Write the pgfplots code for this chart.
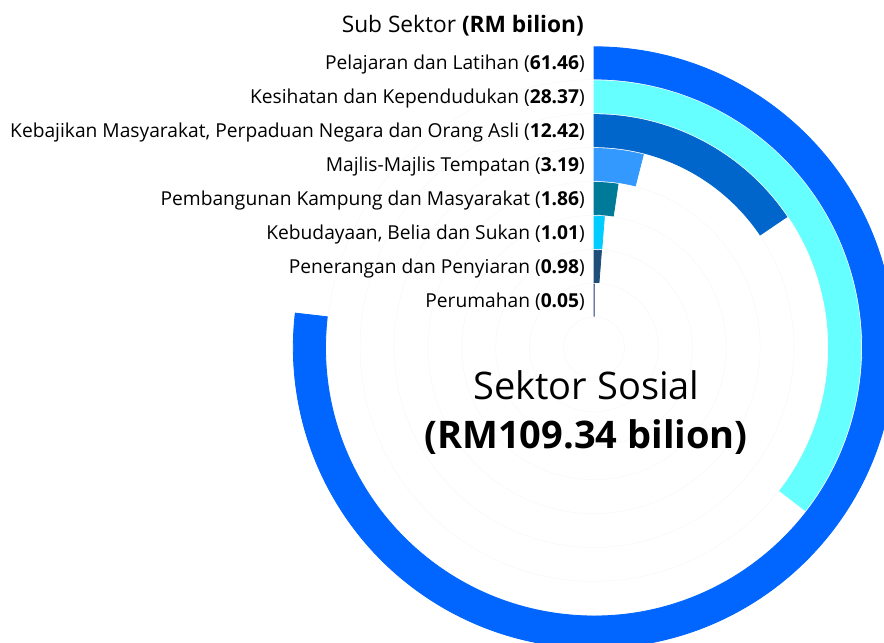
\documentclass[border=0pt]{standalone}
\usepackage{pgfplots}
\pgfplotsset{compat=1.18}
\usepackage{fontspec}
\setmainfont{Open Sans}
\definecolor{c1}{HTML}{0066FF}
\definecolor{c2}{HTML}{66FFFF}
\definecolor{c3}{HTML}{0066CC}
\definecolor{c4}{HTML}{3399FF}
\definecolor{c5}{HTML}{007A99}
\definecolor{c6}{HTML}{00CCFF}
\definecolor{c7}{HTML}{1F4E79}
\definecolor{c8}{HTML}{2E3F7C}
\pgfkeys{/radial/r/.initial=100}
% meta = RM bilion; full circle = 80 (point meta max)
\pgfdeclareplotmark{radialbar}{%
  \pgfmathsetmacro\endang{90-0.36*\pgfplotspointmetatransformed}%
  \pgfmathsetmacro\ro{\pgfkeysvalueof{/radial/r}+16.1}%
  \pgfmathsetmacro\ri{\pgfkeysvalueof{/radial/r}-16.1}%
  \pgfsetlinewidth{0.8bp}%
  \pgfsetmiterjoin
  \pgfpathmoveto{\pgfpointpolar{90}{\ro bp}}%
  \pgfpatharc{90}{\endang}{\ro bp}%
  \pgfpathlineto{\pgfpointpolar{\endang}{\ri bp}}%
  \pgfpatharc{\endang}{90}{\ri bp}%
  \pgfpathclose
  \pgfusepathqfillstroke}
\pgfplotsset{radial/.style 2 args={scatter, only marks, mark=radialbar,
  point meta=explicit, point meta min=0, point meta max=80,
  scatter/use mapped color={draw=#1, fill=#1},
  mark options={/radial/r=#2}}}
\begin{document}
\begin{tikzpicture}
\begin{axis}[
  x=1bp, y=1bp,
  xmin=0, xmax=884, ymin=0, ymax=643,
  hide axis, clip=true, clip marker paths=true,
]
% faint grid circles
\pgfplotsinvokeforeach{30.5,64.4,98.3,132.2,166.1,200.0,233.9,267.8}{
  \draw[black!3, line width=0.5bp] (axis cs:594,295.5) circle[radius=#1bp];
}
\addplot[radial={c1}{284.6}] coordinates {(594,295.5) [61.46]};
\addplot[radial={c2}{250.7}] coordinates {(594,295.5) [28.37]};
\addplot[radial={c3}{216.8}] coordinates {(594,295.5) [12.42]};
\addplot[radial={c4}{182.9}] coordinates {(594,295.5) [3.19]};
\addplot[radial={c5}{149.0}] coordinates {(594,295.5) [1.86]};
\addplot[radial={c6}{115.1}] coordinates {(594,295.5) [1.01]};
\addplot[radial={c7}{81.2}] coordinates {(594,295.5) [0.98]};
\addplot[radial={c8}{47.3}] coordinates {(594,295.5) [0.05]};
\begin{scope}[every node/.style={anchor=east, inner sep=0pt, font=\fontsize{19.2bp}{23bp}\selectfont}]
\node[font=\fontsize{22.7bp}{27bp}\selectfont] at (axis cs:584,617) {Sub Sektor \textbf{(RM bilion)}};
\node at (axis cs:585,578) {Pelajaran dan Latihan (\textbf{61.46})};
\node at (axis cs:585,544) {Kesihatan dan Kependudukan (\textbf{28.37})};
\node at (axis cs:585,510) {Kebajikan Masyarakat, Perpaduan Negara dan Orang Asli (\textbf{12.42})};
\node at (axis cs:585,476) {Majlis-Majlis Tempatan (\textbf{3.19})};
\node at (axis cs:585,442) {Pembangunan Kampung dan Masyarakat (\textbf{1.86})};
\node at (axis cs:585,408.5) {Kebudayaan, Belia dan Sukan (\textbf{1.01})};
\node at (axis cs:585,374.5) {Penerangan dan Penyiaran (\textbf{0.98})};
\node at (axis cs:585,341) {Perumahan (\textbf{0.05})};
\end{scope}
\node[font=\fontsize{38bp}{45bp}\selectfont, inner sep=0pt] at (axis cs:586.5,258) {Sektor Sosial};
\node[font=\fontsize{38bp}{45bp}\bfseries, inner sep=0pt] at (axis cs:586,206) {(RM109.34 bilion)};
\end{axis}
\pgfresetboundingbox
\path (current axis.south west) rectangle (current axis.north east);
\end{tikzpicture}
\end{document}
